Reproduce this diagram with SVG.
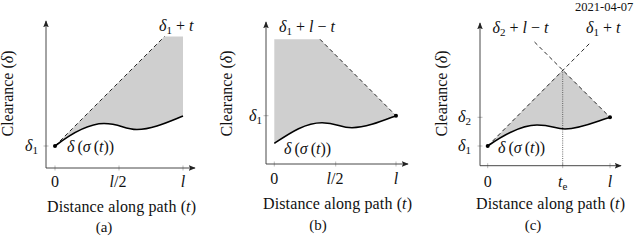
<svg xmlns="http://www.w3.org/2000/svg" width="640" height="243" viewBox="0 0 640 243" font-family="'Liberation Serif', 'DejaVu Serif', 'Times New Roman', serif">
<defs>
<marker id="arr" viewBox="0 0 10 10" refX="9" refY="5" markerWidth="7" markerHeight="7" orient="auto" markerUnits="userSpaceOnUse">
<path d="M0,1 L10,5 L0,9 L2,5 Z" fill="#222"/>
</marker>
<style>
text{font-family:'Liberation Serif','DejaVu Serif',serif;font-size:16px;fill:#111}
.it{font-style:italic}
.sub{font-size:11px}
.axis{stroke:#333;stroke-width:0.9;fill:none;marker-end:url(#arr)}
.tick{stroke:#aaa;stroke-width:0.8}
.shade{fill:#cfcfcf;stroke:none}
.curve{stroke:#000;stroke-width:1.6;fill:none}
.dash{stroke:#111;stroke-width:0.9;stroke-dasharray:4,3;fill:none}
.dot{stroke:#444;stroke-width:0.8;stroke-dasharray:1,1.2;fill:none}
.pt{fill:#000}
.mid{text-anchor:middle}
.end{text-anchor:end}
</style>
</defs>

<text x="575" y="10.5" style="font-size:12.5px">2021-04-07</text>

<!-- Panel (a) -->
<g id="panel-a">
<path class="shade" d="M55,146 L164.5,36.5 L183,36.5 L183,116 C168,122 152,129.5 137,129.5 C124,129.5 120,123.5 104,123.5 C86,123.5 68,136 55,146 Z"/>
<g id="connectors-a">
<line class="tick" x1="55" y1="165.5" x2="55" y2="170.5"/>
<line class="tick" x1="119" y1="165.5" x2="119" y2="170.5"/>
<line class="tick" x1="183" y1="165.5" x2="183" y2="170.5"/>
<line class="tick" x1="43.5" y1="146" x2="48.5" y2="146"/>
<path class="axis" d="M46,168 L46,21"/>
<path class="axis" d="M46,168 L195,168"/>
<path class="dash" d="M55,146 L164.5,36.5"/>
<path class="curve" d="M55,146 C68,136 86,123.5 104,123.5 C120,123.5 124,129.5 137,129.5 C152,129.5 168,122 183,116"/>
</g>
<circle class="pt" cx="55" cy="146" r="2"/>
<text x="159" y="31"><tspan class="it">δ</tspan><tspan class="sub" dy="3">1</tspan><tspan dy="-3"> + </tspan><tspan class="it">t</tspan></text>
<text class="end" x="38" y="151"><tspan class="it">δ</tspan><tspan class="sub" dy="3">1</tspan></text>
<text x="67" y="152" style="word-spacing:-1px"><tspan class="it">δ</tspan> (<tspan class="it">σ</tspan> (<tspan class="it">t</tspan>))</text>
<text class="mid" x="55" y="187">0</text>
<text class="mid" x="118" y="187"><tspan class="it">l</tspan>/2</text>
<text class="mid" x="183" y="187"><tspan class="it">l</tspan></text>
<text x="47" y="212" textLength="149">Distance along path (<tspan class="it">t</tspan>)</text>
<text class="mid" transform="translate(13,93.5) rotate(-90)">Clearance (<tspan class="it">δ</tspan>)</text>
<text class="mid" x="104" y="232" style="font-size:15px">(a)</text>
</g>

<!-- Panel (b) -->
<g id="panel-b">
<path class="shade" d="M274.3,143.3 L274.3,39.3 L320,39.3 L396,115.7 C382,121 366,127.7 352,127.7 C340,127.7 337,122.7 322,122.7 C305,122.7 290,133 274.3,143.3 Z"/>
<g id="connectors-b">
<line class="tick" x1="274.3" y1="161.5" x2="274.3" y2="166.5"/>
<line class="tick" x1="335.7" y1="161.5" x2="335.7" y2="166.5"/>
<line class="tick" x1="396" y1="161.5" x2="396" y2="166.5"/>
<line class="tick" x1="263.5" y1="115.7" x2="268.5" y2="115.7"/>
<path class="axis" d="M266,164 L266,22"/>
<path class="axis" d="M266,164 L408,164"/>
<path class="dash" d="M320,39.3 L396,115.7"/>
<path class="curve" d="M274.3,143.3 C290,133 305,122.7 322,122.7 C337,122.7 340,127.7 352,127.7 C366,127.7 382,121 396,115.7"/>
</g>
<circle class="pt" cx="396" cy="115.7" r="2"/>
<text x="279" y="32"><tspan class="it">δ</tspan><tspan class="sub" dy="3">1</tspan><tspan dy="-3"> + </tspan><tspan class="it">l</tspan> − <tspan class="it">t</tspan></text>
<text class="end" x="262" y="121"><tspan class="it">δ</tspan><tspan class="sub" dy="3">1</tspan></text>
<text x="284" y="154" style="word-spacing:-1px"><tspan class="it">δ</tspan> (<tspan class="it">σ</tspan> (<tspan class="it">t</tspan>))</text>
<text class="mid" x="274.3" y="184">0</text>
<text class="mid" x="335" y="184"><tspan class="it">l</tspan>/2</text>
<text class="mid" x="396" y="184"><tspan class="it">l</tspan></text>
<text x="263" y="209" textLength="149">Distance along path (<tspan class="it">t</tspan>)</text>
<text class="mid" transform="translate(232,93.5) rotate(-90)">Clearance (<tspan class="it">δ</tspan>)</text>
<text class="mid" x="318" y="230" style="font-size:15px">(b)</text>
</g>

<!-- Panel (c) -->
<g id="panel-c">
<path class="shade" d="M487.7,146 L562.7,70 L610,117.3 C595,122 580,129 565,129 C555,129 552,125 537,125 C520,125 502,136 487.7,146 Z"/>
<g id="connectors-c">
<line class="tick" x1="487.7" y1="163.2" x2="487.7" y2="168.2"/>
<line class="tick" x1="562.7" y1="163.2" x2="562.7" y2="168.2"/>
<line class="tick" x1="610" y1="163.2" x2="610" y2="168.2"/>
<line class="tick" x1="477.5" y1="117.3" x2="482.5" y2="117.3"/>
<line class="tick" x1="477.5" y1="146" x2="482.5" y2="146"/>
<path class="axis" d="M480,165.7 L480,23"/>
<path class="axis" d="M480,165.7 L621,165.7"/>
<path class="dot" d="M562.7,70 L562.7,165.7"/>
<path class="dash" d="M487.7,146 L591,42"/>
<path class="dash" d="M534.5,42 L610,117.3"/>
<path class="curve" d="M487.7,146 C502,136 520,125 537,125 C552,125 555,129 565,129 C580,129 595,122 610,117.3"/>
</g>
<circle class="pt" cx="487.7" cy="146" r="2"/>
<circle class="pt" cx="610" cy="117.3" r="2"/>
<text x="492.5" y="33"><tspan class="it">δ</tspan><tspan class="sub" dy="3">2</tspan><tspan dy="-3"> + </tspan><tspan class="it">l</tspan> − <tspan class="it">t</tspan></text>
<text x="586" y="33"><tspan class="it">δ</tspan><tspan class="sub" dy="3">1</tspan><tspan dy="-3"> + </tspan><tspan class="it">t</tspan></text>
<text class="end" x="471" y="122"><tspan class="it">δ</tspan><tspan class="sub" dy="3">2</tspan></text>
<text class="end" x="471" y="151"><tspan class="it">δ</tspan><tspan class="sub" dy="3">1</tspan></text>
<text x="498" y="153" style="word-spacing:-1px"><tspan class="it">δ</tspan> (<tspan class="it">σ</tspan> (<tspan class="it">t</tspan>))</text>
<text class="mid" x="487.7" y="187">0</text>
<text x="558" y="187"><tspan class="it">t</tspan><tspan class="sub" dy="3">e</tspan></text>
<text class="mid" x="610" y="187"><tspan class="it">l</tspan></text>
<text x="476" y="209" textLength="149">Distance along path (<tspan class="it">t</tspan>)</text>
<text class="mid" transform="translate(447,93.5) rotate(-90)">Clearance (<tspan class="it">δ</tspan>)</text>
<text class="mid" x="533" y="230" style="font-size:15px">(c)</text>
</g>
</svg>
